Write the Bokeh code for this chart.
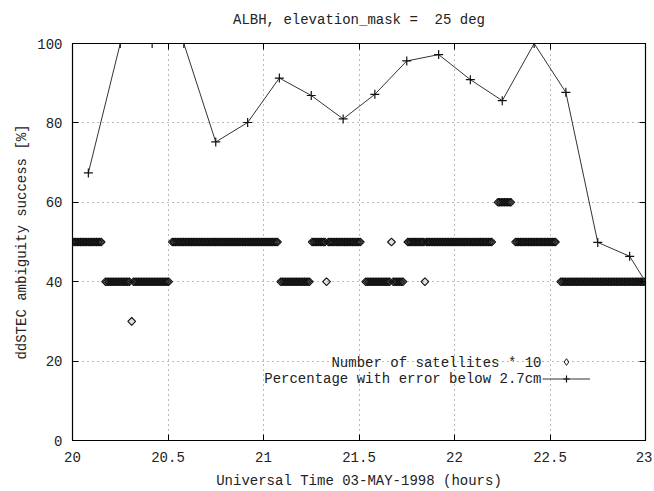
import numpy as np
from bokeh.plotting import figure
from bokeh.models import (Range1d, FixedTicker, LinearAxis, Legend, LegendItem,
                          Label, CustomJSTickFormatter, ColumnDataSource)
from bokeh.embed import file_html
from bokeh.resources import INLINE

# ---------------- data ----------------
title_text = "ALBH, elevation_mask =\u00a0 25 deg"
x_label = "Universal Time 03-MAY-1998 (hours)"
y_label = "ddSTEC ambiguity success [%]"
legend_sat = "Number of satellites * 10"
legend_pct = "Percentage with error below 2.7cm"

x_ticks = [20, 20.5, 21, 21.5, 22, 22.5, 23]
y_ticks = [0, 20, 40, 60, 80, 100]

# percentage of epochs with error below 2.7 cm (one value per 10-minute batch)
pct_time = [20.083, 20.25, 20.417, 20.583, 20.75, 20.917, 21.083, 21.25, 21.417,
            21.583, 21.75, 21.917, 22.083, 22.25, 22.417, 22.583, 22.75, 22.917, 23.0]
pct_value = [67.4, 100, 100, 100, 75.2, 80.1, 91.3, 86.9, 81.0,
             87.2, 95.6, 97.2, 90.9, 85.6, 100, 87.7, 49.9, 46.4, 40.0]

# number of satellites: runs of constant value (start hour, end hour, count)
sat_run_start = [20.0, 20.173, 20.31, 20.32, 20.523, 21.09, 21.255, 21.33, 21.34,
                 21.535, 21.67, 21.68, 21.756, 21.845, 21.853, 22.228, 22.32, 22.556]
sat_run_end = [20.146, 20.300, 20.31, 20.504, 21.071, 21.237, 21.32, 21.33, 21.507,
               21.66, 21.67, 21.734, 21.837, 21.845, 22.197, 22.296, 22.528, 23.0]
sat_run_count = [5, 4, 3, 4, 5, 4, 5, 4, 5,
                 4, 5, 4, 5, 4, 5, 6, 5, 4]
epoch_interval_h = 30.0 / 3600.0

# expand the runs into epochs
sat_t, sat_v = [], []
for s, e, c in zip(sat_run_start, sat_run_end, sat_run_count):
    n = int(round((e - s) / epoch_interval_h)) + 1
    for k in range(n):
        sat_t.append(s + k * epoch_interval_h)
        sat_v.append(c * 10)

sat_src = ColumnDataSource(dict(t=sat_t, v=sat_v))
pct_src = ColumnDataSource(dict(t=pct_time, v=pct_value))

# ---------------- figure ----------------
FONT = "Liberation Mono"
FS = "14px"
INK = "#222222"

p = figure(width=652, height=491, output_backend="svg", toolbar_location=None,
           x_range=Range1d(20, 23), y_range=Range1d(0, 100),
           min_border_left=72, min_border_right=7, min_border_top=43, min_border_bottom=50,
           background_fill_color="white", border_fill_color="white")

p.title.text = title_text
p.title.align = "center"
p.title.text_font = FONT
p.title.text_font_size = FS
p.title.text_font_style = "normal"
p.title.text_color = INK

p.outline_line_color = "black"
p.outline_line_width = 1.2

fmt = CustomJSTickFormatter(code="return String(tick);")
blank = CustomJSTickFormatter(code="return '';")

for ax in (p.xaxis[0], p.yaxis[0]):
    ax.major_tick_in = 6
    ax.major_tick_out = 0
    ax.minor_tick_line_color = None
    ax.axis_line_color = "black"
    ax.major_tick_line_color = "black"
    ax.major_label_text_font = FONT
    ax.major_label_text_font_size = FS
    ax.major_label_text_color = INK
    ax.axis_label_text_font = FONT
    ax.axis_label_text_font_size = FS
    ax.axis_label_text_font_style = "normal"
    ax.axis_label_text_color = INK
    ax.formatter = fmt

p.xaxis[0].ticker = FixedTicker(ticks=x_ticks)
p.yaxis[0].ticker = FixedTicker(ticks=y_ticks)
p.xaxis[0].axis_label = x_label
p.yaxis[0].axis_label = y_label
p.xaxis[0].major_label_standoff = 11
p.xaxis[0].axis_label_standoff = 8
p.yaxis[0].major_label_standoff = 10
p.yaxis[0].axis_label_standoff = 4

# mirrored inward ticks on top and right (gnuplot border style)
top = LinearAxis(ticker=FixedTicker(ticks=x_ticks), formatter=blank,
                 major_tick_in=6, major_tick_out=0, minor_tick_line_color=None,
                 axis_line_color="black", major_label_text_font_size="1px",
                 axis_label=" ", axis_label_text_font_size="1px",
                 axis_label_standoff=7)
right = LinearAxis(ticker=FixedTicker(ticks=y_ticks), formatter=blank,
                   major_tick_in=6, major_tick_out=0, minor_tick_line_color=None,
                   axis_line_color="black", major_label_text_font_size="1px")
p.add_layout(top, "above")
p.add_layout(right, "right")

for g in (p.xgrid[0], p.ygrid[0]):
    g.grid_line_color = "#777777"
    g.grid_line_dash = "1 4"
    g.grid_line_width = 1
p.xgrid[0].ticker = FixedTicker(ticks=x_ticks[1:-1])
p.ygrid[0].ticker = FixedTicker(ticks=y_ticks[1:-1])

# ---------------- glyphs ----------------
sat_r = p.scatter("t", "v", source=sat_src, marker="square", angle=np.pi / 4,
                  size=5.5, fill_color="#333333", fill_alpha=0.15,
                  line_color="#111111", line_width=1.1)

pct_line = p.line("t", "v", source=pct_src, line_color="#333333", line_width=1)
pct_pts = p.scatter("t", "v", source=pct_src, marker="cross", size=9,
                    line_color="#111111", line_width=1.2)

# legend proxy for the hollow diamond sample (hidden in the plot itself)
sat_proxy = p.scatter("t", "v", source=sat_src, marker="diamond", size=9,
                      fill_alpha=0, line_color="#222222", line_width=1, visible=False)

# ---------------- legend (gnuplot style: text left, sample right) ----------------
legend = Legend(items=[LegendItem(label=" ", renderers=[sat_proxy]),
                       LegendItem(label=" ", renderers=[pct_line, pct_pts])],
                location=(470, 53), orientation="vertical",
                glyph_width=48, glyph_height=17, spacing=0, padding=0, margin=0,
                label_standoff=0, label_width=0, label_height=0,
                label_text_font_size="1px", inactive_fill_alpha=0,
                border_line_alpha=0, background_fill_alpha=0)
p.add_layout(legend)

for txt, yy in ((legend_sat, 78), (legend_pct, 62)):
    p.add_layout(Label(x=469, y=yy, x_units="screen", y_units="screen", text=txt,
                       text_align="right", text_baseline="middle",
                       text_font=FONT, text_font_size=FS, text_color=INK))

open("out.html", "w").write(file_html(p, INLINE))
